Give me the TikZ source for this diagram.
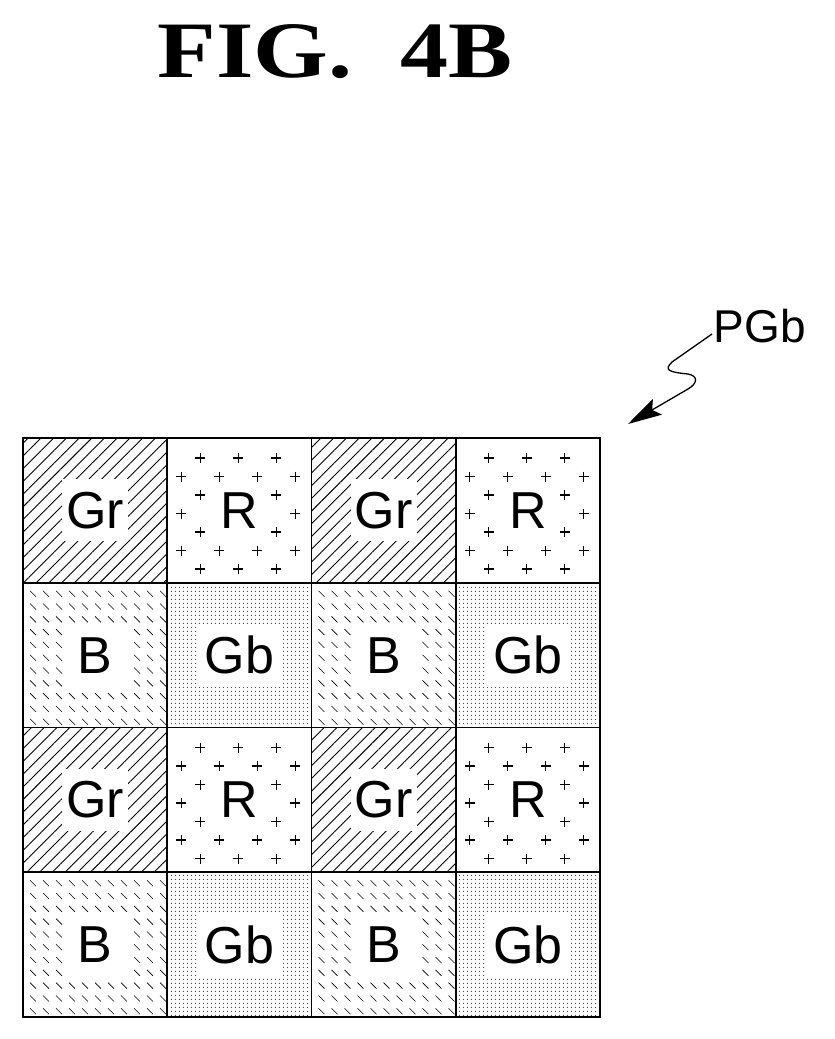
\documentclass[tikz,border=0pt]{standalone}
\usepackage{fontspec}
\setmainfont{Liberation Serif}
\newfontfamily\lab{Liberation Sans}
\usetikzlibrary{patterns.meta,arrows.meta}
\begin{document}
\begin{tikzpicture}[x=1pt,y=-1pt,
  cellb/.style={draw=black,line width=1.6pt},
  lbl/.style={font=\lab\fontsize{52}{52}\selectfont},
  hole/.style={fill=white,draw=none,minimum width=72pt,minimum height=62pt}]
\useasboundingbox (0,0) rectangle (835,1039);
\node[font=\bfseries\fontsize{80}{80}\selectfont] (title) at (335,52) {\scalebox{1.2}[1]{FIG.\hspace{0.5em}4B}};
\foreach \r in {0,1,2,3}{
 \foreach \c in {0,1,2,3}{
  \pgfmathsetmacro\xa{23+144.25*\c}
  \pgfmathsetmacro\ya{438+144.75*\r}
  \pgfmathsetmacro\xm{\xa+72.1}
  \pgfmathsetmacro\ym{\ya+72.4}
  \pgfmathtruncatemacro\odd{mod(\r,2)}
  \pgfmathtruncatemacro\oc{mod(\c,2)}
  \ifnum\odd=0
    \ifnum\oc=0
      \fill[pattern={Lines[angle=45,distance=9pt,line width=0.9pt]}] (\xa,\ya) rectangle ++(144.25,144.75);
      \node[hole,minimum width=66pt] at (\xm,\ym) {};
      \node[lbl] at (\xm,\ym) {Gr};
    \else
      \foreach \i in {0,...,6}{
        \pgfmathtruncatemacro\oi{mod(\i,2)}
        \foreach \j in {0,1,2,3}{
          \pgfmathsetmacro\px{\xa+14+38*\j+(1-\oi)*19}
          \pgfmathsetmacro\py{\ya+20+18.5*\i}
          \pgfmathtruncatemacro\inside{and(abs(\px-\xm)<26,abs(\py-\ym)<30)}
          \ifnum\inside=0
            \ifdim\px pt<\dimexpr\xa pt+140pt\relax
            \draw[line width=1.1pt] (\px-5,\py)--(\px+5,\py) (\px,\py-5)--(\px,\py+5);
            \fi
          \fi
        }}
      \node[lbl] at (\xm,\ym) {R};
    \fi
  \else
    \ifnum\oc=0
      \foreach \i in {0,...,10}{
        \foreach \j in {0,...,10}{
          \pgfmathsetmacro\px{\xa+7+13*\j}
          \pgfmathsetmacro\py{\ya+8+12.8*\i}
          \pgfmathtruncatemacro\inside{and(abs(\px-\xm)<28,abs(\py-\ym)<30)}
          \ifnum\inside=0
            \draw[line width=0.6pt] (\px,\py)--(\px+6,\py+6);
          \fi
        }}
      \node[lbl] at (\xm,\ym) {B};
    \else
      \fill[pattern={Dots[distance=4pt,radius=0.6pt]}] (\xa,\ya) rectangle ++(144.25,144.75);
      \node[hole,minimum width=86pt] at (\xm,\ym) {};
      \node[lbl] at (\xm,\ym) {Gb};
    \fi
  \fi
  \draw[cellb] (\xa,\ya) rectangle ++(144.25,144.75);
 }}
\node[font=\lab\fontsize{46}{46}\selectfont,anchor=west] (pgb) at (710,326) {PGb};
\coordinate (tip) at (628,424);
\draw[line width=1.3pt,-{Stealth[length=34pt,width=18pt,inset=6pt]}] (pgb.west)++(2,8) -- (672,362)
  .. controls (664,370) and (668,372) .. (688,374)
  .. controls (699,376) and (697,384) .. (688,389) -- (tip);
\end{tikzpicture}
\end{document}
